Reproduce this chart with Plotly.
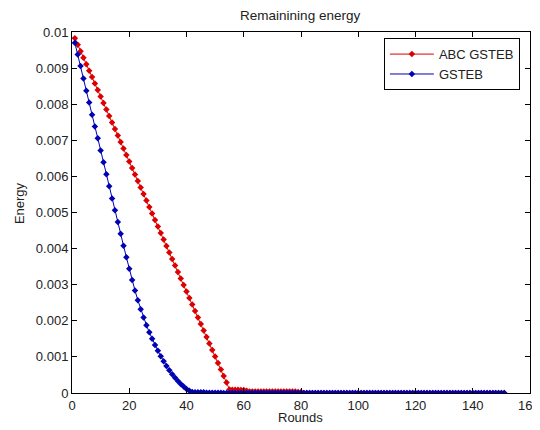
import plotly.graph_objects as go

rounds = list(range(1, 152))

abc_gsteb = [
    0.00983, 0.00965, 0.00947, 0.00929, 0.00911, 0.00893, 0.00875, 0.00857, 0.00839, 0.00821,
    0.00803, 0.00785, 0.00767, 0.00749, 0.00731, 0.00713, 0.00695, 0.00677, 0.00659, 0.00641,
    0.00623, 0.00605, 0.00587, 0.00569, 0.00551, 0.00533, 0.00515, 0.00497, 0.00479, 0.00461,
    0.00443, 0.00425, 0.00407, 0.00389, 0.00371, 0.00353, 0.00335, 0.00317, 0.00299, 0.00281,
    0.00263, 0.00245, 0.00227, 0.00209, 0.00191, 0.00173, 0.00155, 0.00137, 0.00119, 0.00101,
    0.00083, 0.00065, 0.00047, 0.00029, 0.00010, 0.00009, 0.00009, 0.00009, 0.00008, 0.00008,
    0.00006, 0.00004, 0.00004, 0.00004, 0.00004, 0.00004, 0.00004, 0.00004, 0.00004, 0.00004,
    0.00004, 0.00004, 0.00004, 0.00004, 0.00004, 0.00004, 0.00004, 0.00004, 0.00003, 0.00003,
    0.00000, 0.00000, 0.00000, 0.00000, 0.00000, 0.00000, 0.00000, 0.00000, 0.00000, 0.00000,
    0.00000, 0.00000, 0.00000, 0.00000, 0.00000, 0.00000, 0.00000, 0.00000, 0.00000, 0.00000,
    0.00000, 0.00000, 0.00000, 0.00000, 0.00000, 0.00000, 0.00000, 0.00000, 0.00000, 0.00000,
    0.00000, 0.00000, 0.00000, 0.00000, 0.00000, 0.00000, 0.00000, 0.00000, 0.00000, 0.00000,
    0.00000, 0.00000, 0.00000, 0.00000, 0.00000, 0.00000, 0.00000, 0.00000, 0.00000, 0.00000,
    0.00000, 0.00000, 0.00000, 0.00000, 0.00000, 0.00000, 0.00000, 0.00000, 0.00000, 0.00000,
    0.00000, 0.00000, 0.00000, 0.00000, 0.00000, 0.00000, 0.00000, 0.00000, 0.00000, 0.00000,
    0.00000,
]

gsteb = [
    0.00970, 0.00938, 0.00906, 0.00871, 0.00837, 0.00805, 0.00771, 0.00738, 0.00706, 0.00672,
    0.00639, 0.00606, 0.00573, 0.00539, 0.00506, 0.00474, 0.00441, 0.00408, 0.00376, 0.00344,
    0.00313, 0.00284, 0.00257, 0.00232, 0.00209, 0.00188, 0.00168, 0.00150, 0.00133, 0.00117,
    0.00102, 0.00088, 0.00075, 0.00063, 0.00052, 0.00042, 0.00033, 0.00025, 0.00018, 0.00011,
    0.00006, 0.00003, 0.00002, 0.00002, 0.00002, 0.00002, 0.00001, 0.00001, 0.00001, 0.00001,
    0.00001, 0.00001, 0.00000, 0.00000, 0.00000, 0.00000, 0.00000, 0.00000, 0.00000, 0.00000,
    0.00000, 0.00000, 0.00000, 0.00000, 0.00000, 0.00000, 0.00000, 0.00000, 0.00000, 0.00000,
    0.00000, 0.00000, 0.00000, 0.00000, 0.00000, 0.00000, 0.00000, 0.00000, 0.00000, 0.00000,
    0.00000, 0.00000, 0.00000, 0.00000, 0.00000, 0.00000, 0.00000, 0.00000, 0.00000, 0.00000,
    0.00000, 0.00000, 0.00000, 0.00000, 0.00000, 0.00000, 0.00000, 0.00000, 0.00000, 0.00000,
    0.00000, 0.00000, 0.00000, 0.00000, 0.00000, 0.00000, 0.00000, 0.00000, 0.00000, 0.00000,
    0.00000, 0.00000, 0.00000, 0.00000, 0.00000, 0.00000, 0.00000, 0.00000, 0.00000, 0.00000,
    0.00000, 0.00000, 0.00000, 0.00000, 0.00000, 0.00000, 0.00000, 0.00000, 0.00000, 0.00000,
    0.00000, 0.00000, 0.00000, 0.00000, 0.00000, 0.00000, 0.00000, 0.00000, 0.00000, 0.00000,
    0.00000, 0.00000, 0.00000, 0.00000, 0.00000, 0.00000, 0.00000, 0.00000, 0.00000, 0.00000,
    0.00000,
]

x_ticks = [0, 20, 40, 60, 80, 100, 120, 140, 160]
x_tick_labels = ["0", "20", "40", "60", "80", "100", "120", "140", ""]
x_last_label = "160"
y_ticks = [0, 0.001, 0.002, 0.003, 0.004, 0.005, 0.006, 0.007, 0.008, 0.009, 0.01]
y_tick_labels = ["0", "0.001", "0.002", "0.003", "0.004", "0.005", "0.006", "0.007", "0.008", "0.009", "0.01"]

RED = "#dc0000"
BLUE = "#0000b4"
TXT = "#222222"
FONT = "Liberation Sans, Arial, sans-serif"

fig = go.Figure()
fig.add_trace(go.Scatter(
    x=rounds, y=abc_gsteb, name="ABC GSTEB", mode="lines+markers",
    line=dict(color=RED, width=1),
    marker=dict(symbol="diamond", size=5, color=RED),
))
fig.add_trace(go.Scatter(
    x=rounds, y=gsteb, name="GSTEB", mode="lines+markers",
    line=dict(color=BLUE, width=1),
    marker=dict(symbol="diamond", size=5, color=BLUE),
))

axis_common = dict(
    showgrid=False, zeroline=False, showline=True, linecolor="black", linewidth=1,
    mirror="allticks", ticks="inside", ticklen=5, tickcolor="black",
    tickfont=dict(family=FONT, size=13, color=TXT), automargin=False,
)

fig.update_layout(
    width=540, height=430,
    margin=dict(l=64, r=18, t=24, b=45),
    paper_bgcolor="white", plot_bgcolor="white",
    font=dict(family=FONT, size=13, color=TXT),
    title=dict(text="Remainining energy", x=0.541, xanchor="center", y=0.995, yanchor="top",
               font=dict(family=FONT, size=13.5, color=TXT)),
    xaxis=dict(range=[0, 160], tickvals=x_ticks, ticktext=x_tick_labels, **axis_common),
    yaxis=dict(range=[0, 0.01], tickvals=y_ticks, ticktext=y_tick_labels, **axis_common),
    legend=dict(x=0.681, y=0.983, xanchor="left", yanchor="top",
                bgcolor="white", bordercolor="black", borderwidth=1,
                font=dict(family=FONT, size=13, color=TXT),
                tracegroupgap=0, itemwidth=44),
    annotations=[
        dict(text=x_last_label, xref="paper", yref="paper", x=0.998, y=-0.036,
             xanchor="center", yanchor="middle", showarrow=False,
             font=dict(family=FONT, size=13, color=TXT)),
        dict(text="Rounds", xref="paper", yref="paper", x=0.498, y=-0.069,
             xanchor="center", yanchor="middle", showarrow=False,
             font=dict(family=FONT, size=13, color=TXT)),
        dict(text="Energy", xref="paper", yref="paper", x=-0.1157, y=0.526,
             xanchor="center", yanchor="middle", showarrow=False, textangle=-90,
             font=dict(family=FONT, size=13, color=TXT)),
    ],
    showlegend=True,
)

fig.write_html("out.html")
